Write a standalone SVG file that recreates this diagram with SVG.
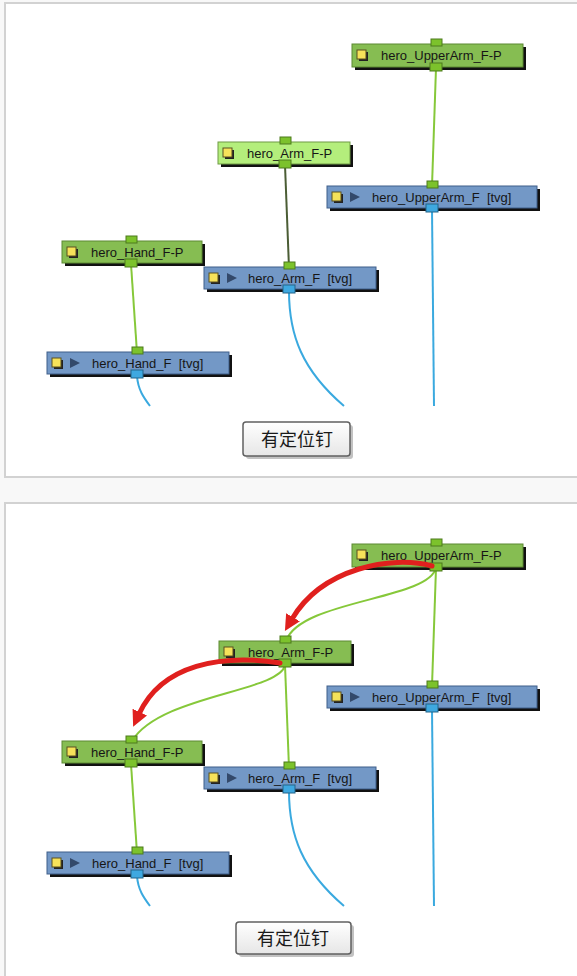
<svg xmlns="http://www.w3.org/2000/svg" width="577" height="976" viewBox="0 0 577 976">
<style>
.lbl{font-family:"Liberation Sans","DejaVu Sans",sans-serif;font-size:13px;fill:#161616;white-space:pre}
.btn{font-family:"Liberation Sans","Noto Sans CJK SC",sans-serif;font-size:18px;fill:#1a1a1a}
.sh{fill:#111}
.gn{fill:#86bd52;stroke:#5d8a33;stroke-width:1}
.lg{fill:#b4ee7c;stroke:#6f9a45;stroke-width:1}
.bl{fill:#7398c6;stroke:#3f5f8a;stroke-width:1}
.yq{fill:#f6e25a;stroke:#5a5020;stroke-width:1}
.yqs{fill:#222}
.tri{fill:#33496a}
.pg{fill:#7cc22c;stroke:#4d7a1c;stroke-width:1}
.pb{fill:#3ea8e0;stroke:#23658a;stroke-width:1}
.lnG{fill:none;stroke:#86c83a;stroke-width:2}
.lnD{fill:none;stroke:#4b5d35;stroke-width:2}
.lnB{fill:none;stroke:#3aa9df;stroke-width:2}
.red{fill:none;stroke:#e0201e;stroke-width:5;stroke-linecap:round}
.frame{fill:#fff;stroke:#d2d2d2;stroke-width:2}
</style>
<defs>
<linearGradient id="bg" x1="0" y1="0" x2="0" y2="1">
<stop offset="0" stop-color="#ffffff"/><stop offset="1" stop-color="#e6e6e6"/>
</linearGradient>
<marker id="ah" markerUnits="userSpaceOnUse" markerWidth="20" markerHeight="20" refX="2" refY="8" orient="auto">
<path d="M0,0 L16,8 L0,16 Z" fill="#e0201e"/>
</marker>
</defs>
<rect x="0" y="0" width="577" height="976" fill="#f8f8f8"/>
<rect class="frame" x="5" y="3" width="600" height="474"/>
<rect class="frame" x="5" y="503" width="600" height="500"/>

<g id="connectors">
<path class="lnG" d="M436,68 L432,186"/>
<path class="lnD" d="M285,165 L289,268"/>
<path class="lnG" d="M131,264 L137,353"/>
<path class="lnB" d="M432,209 L434,406"/>
<path class="lnB" d="M289,291 C289,335 302,370 344,406"/>
<path class="lnB" d="M137,376 C138,390 144,398 150,406"/>
<path class="lnG" d="M436,568 L432,686"/>
<path class="lnG" d="M436,568 C428,600 300,600 286,641"/>
<path class="lnG" d="M285,665 L289,768"/>
<path class="lnG" d="M285,665 C280,692 160,695 132,741"/>
<path class="lnG" d="M131,764 L137,853"/>
<path class="lnB" d="M432,709 L434,906"/>
<path class="lnB" d="M289,791 C289,835 302,870 344,906"/>
<path class="lnB" d="M137,876 C138,890 144,898 150,906"/>
</g>

<g id="t_upperarm_fp">
<rect class="sh" x="355" y="47" width="171" height="23"/>
<rect class="gn" x="352" y="44" width="171" height="23"/>
<rect class="yqs" x="359" y="52" width="9" height="9"/>
<rect class="yq" x="357" y="50" width="9" height="9"/>
<text class="lbl" x="381" y="60">hero_UpperArm_F-P</text>
<rect class="pg" x="431" y="39" width="11" height="7"/>
<rect class="pg" x="430" y="63" width="12" height="8"/>
</g>
<g id="t_arm_fp">
<rect class="sh" x="221" y="145" width="132" height="22"/>
<rect class="lg" x="218" y="142" width="132" height="22"/>
<rect class="yqs" x="225" y="150" width="9" height="9"/>
<rect class="yq" x="223" y="148" width="9" height="9"/>
<text class="lbl" x="247" y="158">hero_Arm_F-P</text>
<rect class="pg" x="280" y="137" width="11" height="7"/>
<rect class="pg" x="279" y="160" width="12" height="8"/>
</g>
<g id="t_upperarm_f">
<rect class="sh" x="330" y="189" width="210" height="22"/>
<rect class="bl" x="327" y="186" width="210" height="22"/>
<rect class="yqs" x="334" y="194" width="9" height="9"/>
<rect class="yq" x="332" y="192" width="9" height="9"/>
<path class="tri" d="M350,192 L360,197 L350,202 Z"/>
<text class="lbl" x="372" y="202">hero_UpperArm_F  [tvg]</text>
<rect class="pg" x="427" y="181" width="11" height="7"/>
<rect class="pb" x="426" y="204" width="12" height="8"/>
</g>
<g id="t_hand_fp">
<rect class="sh" x="65" y="244" width="140" height="22"/>
<rect class="gn" x="62" y="241" width="140" height="22"/>
<rect class="yqs" x="69" y="249" width="9" height="9"/>
<rect class="yq" x="67" y="247" width="9" height="9"/>
<text class="lbl" x="91" y="257">hero_Hand_F-P</text>
<rect class="pg" x="126" y="236" width="11" height="7"/>
<rect class="pg" x="125" y="259" width="12" height="8"/>
</g>
<g id="t_arm_f">
<rect class="sh" x="207" y="270" width="172" height="22"/>
<rect class="bl" x="204" y="267" width="172" height="22"/>
<rect class="yqs" x="211" y="275" width="9" height="9"/>
<rect class="yq" x="209" y="273" width="9" height="9"/>
<path class="tri" d="M227,273 L237,278 L227,283 Z"/>
<text class="lbl" x="248" y="283">hero_Arm_F  [tvg]</text>
<rect class="pg" x="284" y="262" width="11" height="7"/>
<rect class="pb" x="283" y="285" width="12" height="8"/>
</g>
<g id="t_hand_f">
<rect class="sh" x="50" y="355" width="182" height="22"/>
<rect class="bl" x="47" y="352" width="182" height="22"/>
<rect class="yqs" x="54" y="360" width="9" height="9"/>
<rect class="yq" x="52" y="358" width="9" height="9"/>
<path class="tri" d="M70,358 L80,363 L70,368 Z"/>
<text class="lbl" x="92" y="368">hero_Hand_F  [tvg]</text>
<rect class="pg" x="132" y="347" width="11" height="7"/>
<rect class="pb" x="131" y="370" width="12" height="8"/>
</g>
<g id="t_button">
<rect x="246" y="425" width="107" height="34" rx="3" fill="#9a9a9a" opacity="0.6"/>
<rect x="243" y="422" width="107" height="34" rx="3" fill="url(#bg)" stroke="#606060" stroke-width="1.5"/>
<text class="btn" x="297" y="446" text-anchor="middle">有定位钉</text>
</g>

<g id="b_upperarm_fp">
<rect class="sh" x="355" y="547" width="171" height="23"/>
<rect class="gn" x="352" y="544" width="171" height="23"/>
<rect class="yqs" x="359" y="552" width="9" height="9"/>
<rect class="yq" x="357" y="550" width="9" height="9"/>
<text class="lbl" x="381" y="560">hero_UpperArm_F-P</text>
<rect class="pg" x="431" y="539" width="11" height="7"/>
<rect class="pg" x="430" y="563" width="12" height="8"/>
</g>
<g id="b_arm_fp">
<rect class="sh" x="222" y="644" width="132" height="22"/>
<rect class="gn" x="219" y="641" width="132" height="22"/>
<rect class="yqs" x="226" y="649" width="9" height="9"/>
<rect class="yq" x="224" y="647" width="9" height="9"/>
<text class="lbl" x="248" y="657">hero_Arm_F-P</text>
<rect class="pg" x="280" y="636" width="11" height="7"/>
<rect class="pg" x="279" y="659" width="12" height="8"/>
</g>
<g id="b_upperarm_f">
<rect class="sh" x="330" y="689" width="210" height="22"/>
<rect class="bl" x="327" y="686" width="210" height="22"/>
<rect class="yqs" x="334" y="694" width="9" height="9"/>
<rect class="yq" x="332" y="692" width="9" height="9"/>
<path class="tri" d="M350,692 L360,697 L350,702 Z"/>
<text class="lbl" x="372" y="702">hero_UpperArm_F  [tvg]</text>
<rect class="pg" x="427" y="681" width="11" height="7"/>
<rect class="pb" x="426" y="704" width="12" height="8"/>
</g>
<g id="b_hand_fp">
<rect class="sh" x="65" y="744" width="140" height="22"/>
<rect class="gn" x="62" y="741" width="140" height="22"/>
<rect class="yqs" x="69" y="749" width="9" height="9"/>
<rect class="yq" x="67" y="747" width="9" height="9"/>
<text class="lbl" x="91" y="757">hero_Hand_F-P</text>
<rect class="pg" x="126" y="736" width="11" height="7"/>
<rect class="pg" x="125" y="759" width="12" height="8"/>
</g>
<g id="b_arm_f">
<rect class="sh" x="207" y="770" width="172" height="22"/>
<rect class="bl" x="204" y="767" width="172" height="22"/>
<rect class="yqs" x="211" y="775" width="9" height="9"/>
<rect class="yq" x="209" y="773" width="9" height="9"/>
<path class="tri" d="M227,773 L237,778 L227,783 Z"/>
<text class="lbl" x="248" y="783">hero_Arm_F  [tvg]</text>
<rect class="pg" x="284" y="762" width="11" height="7"/>
<rect class="pb" x="283" y="785" width="12" height="8"/>
</g>
<g id="b_hand_f">
<rect class="sh" x="50" y="855" width="182" height="22"/>
<rect class="bl" x="47" y="852" width="182" height="22"/>
<rect class="yqs" x="54" y="860" width="9" height="9"/>
<rect class="yq" x="52" y="858" width="9" height="9"/>
<path class="tri" d="M70,858 L80,863 L70,868 Z"/>
<text class="lbl" x="92" y="868">hero_Hand_F  [tvg]</text>
<rect class="pg" x="132" y="847" width="11" height="7"/>
<rect class="pb" x="131" y="870" width="12" height="8"/>
</g>
<g id="b_button">
<rect x="239" y="925" width="115" height="32" rx="3" fill="#9a9a9a" opacity="0.6"/>
<rect x="236" y="922" width="115" height="32" rx="3" fill="url(#bg)" stroke="#606060" stroke-width="1.5"/>
<text class="btn" x="293" y="945" text-anchor="middle">有定位钉</text>
</g>

<g id="red_arrows">
<path class="red" d="M432,566 C392,555 322,568 292,619" marker-end="url(#ah)"/>
<path class="red" d="M280,663 C222,654 162,664 139,714" marker-end="url(#ah)"/>
</g>
</svg>
